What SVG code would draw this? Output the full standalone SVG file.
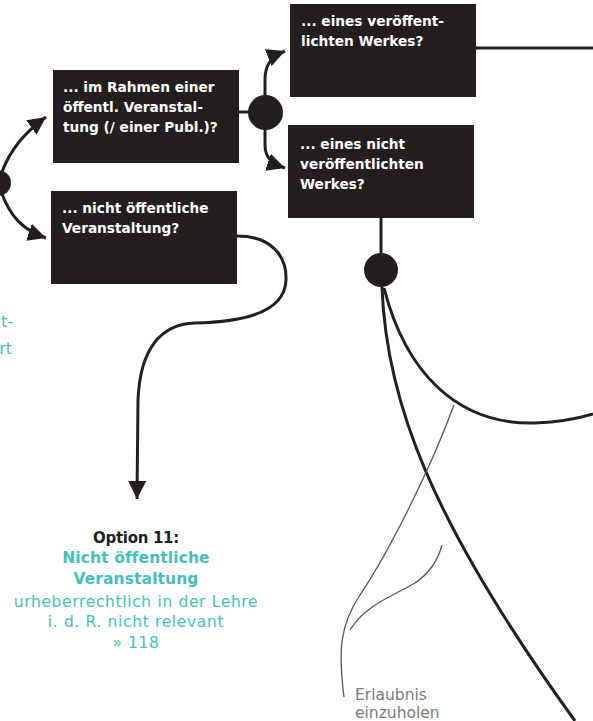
<svg xmlns="http://www.w3.org/2000/svg" width="593" height="721" viewBox="0 0 593 721">
<defs>
<style>
.box{fill:#231f20}
.bt{fill:#fff;font-family:"DejaVu Sans",sans-serif;font-weight:700;font-size:13.7px}
.con{fill:none;stroke:#231f20;stroke-width:3}
.thin{fill:none;stroke:#555;stroke-width:1.3}
.dot{fill:#231f20}
.teal{fill:#45bfb8;font-family:"DejaVu Sans",sans-serif;font-size:15.5px;letter-spacing:0.65px}
.tb{font-weight:700;letter-spacing:0.1px}
.gray{fill:#7a7a7a;font-family:"DejaVu Sans",sans-serif;font-size:15.5px}
.edge{fill:#45bfb8;font-family:"DejaVu Sans",sans-serif;font-size:16px}
</style>
<marker id="ah" viewBox="0 0 10 10" refX="10" refY="5" markerWidth="6" markerHeight="6" markerUnits="strokeWidth" orient="auto">
<path d="M0 0 L10 5 L0 10 Z" fill="#231f20"/>
</marker>
</defs>
<g id="connectors">
<path class="con" d="M2 172 C10 150 25 132 46 117" marker-end="url(#ah)"/>
<path class="con" d="M2 194 C10 215 22 230 46 238" marker-end="url(#ah)"/>
<path class="con" d="M239 112 L250 112"/>
<path class="con" d="M265 96 L265 80 C265 66 270 57 285 51" marker-end="url(#ah)"/>
<path class="con" d="M265 129 L265 145 C265 156 270 163 285 168" marker-end="url(#ah)"/>
<path class="con" d="M476 48 L593 48"/>
<path class="con" d="M381 218 L381 258"/>
<path class="con" d="M382 287 C386 400 430 520 575 721"/>
<path class="con" d="M384 288 C405 370 455 425 535 423 C560 422 580 418 593 414"/>
<path class="con" d="M237 236 C270 236 287 255 286 280 C285 310 250 322 195 323 C160 324 140 350 138 400 L137 499" marker-end="url(#ah)"/>
<path class="thin" d="M344 697 C338 650 340 625 360 595 C390 550 430 470 454 405"/>
<path class="thin" d="M350 630 C365 605 395 595 415 583 C430 573 438 560 442 545"/>
</g>
<g id="circle-left"><circle class="dot" cx="-2" cy="183" r="13"/></g>
<g id="circle-mid"><circle class="dot" cx="265.5" cy="112.5" r="17.5"/></g>
<g id="circle-low"><circle class="dot" cx="381" cy="270" r="17"/></g>
<g id="box-oeffentl">
<rect class="box" x="53" y="70" width="186" height="93"/>
<text class="bt" x="63" y="92">... im Rahmen einer</text>
<text class="bt" x="63" y="112">öffentl. Veranstal-</text>
<text class="bt" x="63" y="132">tung (/ einer Publ.)?</text>
</g>
<g id="box-nicht-oeffentl">
<rect class="box" x="51" y="191" width="186" height="93"/>
<text class="bt" x="62" y="213">... nicht öffentliche</text>
<text class="bt" x="62" y="233">Veranstaltung?</text>
</g>
<g id="box-veroeff">
<rect class="box" x="290" y="4" width="186" height="93"/>
<text class="bt" x="301" y="26">... eines veröffent-</text>
<text class="bt" x="301" y="46">lichten Werkes?</text>
</g>
<g id="box-nicht-veroeff">
<rect class="box" x="288" y="125" width="186" height="93"/>
<text class="bt" x="300" y="149">... eines nicht</text>
<text class="bt" x="300" y="169">veröffentlichten</text>
<text class="bt" x="300" y="189">Werkes?</text>
</g>
<g id="left-edge-text">
<text class="edge" x="13" y="327" text-anchor="end">t-</text>
<text class="edge" x="12" y="354" text-anchor="end">rt</text>
</g>
<g id="option-11" text-anchor="middle">
<text x="136" y="543" style="fill:#231f20;font-family:'DejaVu Sans',sans-serif;font-size:15px;font-weight:700;letter-spacing:-0.3px">Option 11:</text>
<text class="teal tb" x="136" y="563">Nicht öffentliche</text>
<text class="teal tb" x="136" y="584">Veranstaltung</text>
<text class="teal" x="136" y="607">urheberrechtlich in der Lehre</text>
<text class="teal" x="136" y="627">i. d. R. nicht relevant</text>
<text class="teal" x="136" y="648">» 118</text>
</g>
<g id="label-erlaubnis">
<text class="gray" x="355" y="700">Erlaubnis</text>
<text class="gray" x="355" y="718">einzuholen</text>
</g>
</svg>
